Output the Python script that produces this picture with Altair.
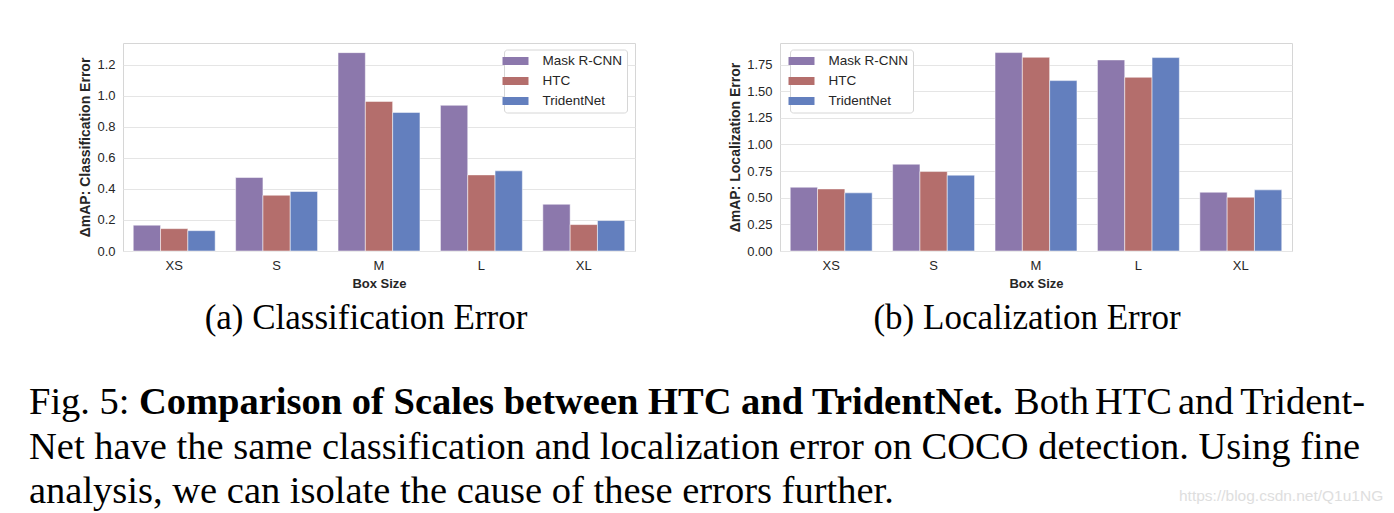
import altair as alt
import pandas as pd

box_sizes = ["XS", "S", "M", "L", "XL"]
models = ["Mask R-CNN", "HTC", "TridentNet"]
colors = ["#8c78ac", "#b46e6c", "#637fbe"]

cls_mask = [0.166, 0.473, 1.277, 0.938, 0.301]
cls_htc = [0.144, 0.359, 0.963, 0.490, 0.170]
cls_trident = [0.131, 0.383, 0.892, 0.516, 0.196]

loc_mask = [0.599, 0.815, 1.863, 1.794, 0.552]
loc_htc = [0.583, 0.746, 1.819, 1.631, 0.505]
loc_trident = [0.546, 0.712, 1.600, 1.816, 0.574]

cls_ticks = [0.0, 0.2, 0.4, 0.6, 0.8, 1.0, 1.2]
loc_ticks = [0.0, 0.25, 0.5, 0.75, 1.0, 1.25, 1.5, 1.75]

sub_a = "(a) Classification Error"
sub_b = "(b) Localization Error"
cap1_a = "Fig. 5:"
cap1_b = "Comparison of Scales between HTC and TridentNet."
cap1_words = ["Both", "HTC", "and"]
cap1_last = "Trident-"
cap2 = "Net have the same classification and localization error on COCO detection. Using fine"
cap3 = "analysis, we can isolate the cause of these errors further."
watermark = "https://blog.csdn.net/Q1u1NG"

SANS = "Liberation Sans"
SERIF = "Liberation Serif"
CAP = 38.5


def frame(series):
    rows = []
    for model, vals in zip(models, series):
        for s, v in zip(box_sizes, vals):
            rows.append({"size": s, "model": model, "value": v})
    return pd.DataFrame(rows)


def text_layer(txt, x, y, size, font, weight="normal", color="black", align="left"):
    return alt.Chart(pd.DataFrame({"t": [txt]})).mark_text(
        font=font, fontSize=size, fontWeight=weight, color=color,
        align=align, baseline="alphabetic"
    ).encode(x=alt.value(x), y=alt.value(y), text="t:N")


def panel(series, ytitle, ymax, ticks, fmt, lx, ly, extras):
    df = frame(series)
    bars = alt.Chart(df).mark_bar(stroke="white", strokeWidth=1, strokeOpacity=0.5).encode(
        x=alt.X("size:N", sort=box_sizes, title="Box Size",
                scale=alt.Scale(domain=box_sizes, paddingInner=0.2, paddingOuter=0.1),
                axis=alt.Axis(labelAngle=0, grid=False, labelPadding=8, titlePadding=5)),
        xOffset=alt.XOffset("model:N", sort=models,
                            scale=alt.Scale(domain=models, paddingInner=0, paddingOuter=0)),
        y=alt.Y("value:Q", title=ytitle,
                scale=alt.Scale(domain=[0, ymax], nice=False, zero=True),
                axis=alt.Axis(values=ticks, format=fmt, grid=True, labelPadding=8,
                              titlePadding=4, titleFontSize=14)),
        color=alt.Color("model:N", sort=models,
                        scale=alt.Scale(domain=models, range=colors),
                        legend=alt.Legend(title=None, orient="none", legendX=lx, legendY=ly)),
    )
    return alt.layer(bars, *extras).properties(width=512, height=208)


word_x = [1013, 1094, 1177]
left_extras = [
    text_layer(sub_a, 243, 286, 35, SERIF, align="center"),
    text_layer(cap1_a, -94, 370.5, CAP, SERIF),
    text_layer(cap1_b, 16, 370.5, CAP, SERIF, weight="bold"),
    text_layer(cap1_last, 1364 - 122, 370.5, CAP, SERIF, align="right"),
    text_layer(cap2, -94, 415.5, CAP, SERIF),
    text_layer(cap3, -94, 459.5, CAP, SERIF),
] + [text_layer(w, x - 122, 370.5, CAP, SERIF) for w, x in zip(cap1_words, word_x)]

right_extras = [
    text_layer(sub_b, 247, 286, 35, SERIF, align="center"),
    text_layer(watermark, 399, 457.5, 15.5, SANS, color="#dedede"),
]

left = panel([cls_mask, cls_htc, cls_trident], "ΔmAP: Classification Error",
             1.339, cls_ticks, ".1f", 381, 6.5, left_extras)
right = panel([loc_mask, loc_htc, loc_trident], "ΔmAP: Localization Error",
              1.953, loc_ticks, ".2f", 10, 6.5, right_extras)

chart = alt.hconcat(left, right, spacing=145, bounds="flush").resolve_scale(
    color="independent"
).resolve_legend(
    color="independent"
).properties(
    padding={"left": 28, "top": 42, "right": 0, "bottom": 0},
    background="white",
).configure_view(
    stroke="#d6d6d6", strokeWidth=1
).configure_axis(
    labelFont=SANS, labelFontSize=13, labelColor="#262626",
    titleFont=SANS, titleFontSize=13, titleFontWeight="bold", titleColor="#262626",
    domain=False, ticks=False, gridColor="#e5e5e5", gridWidth=1,
).configure_legend(
    labelFont=SANS, labelFontSize=13.5, labelColor="#262626",
    fillColor="white", strokeColor="#d6d6d6", cornerRadius=3, padding=4.5,
    symbolType="M-1.857,-0.571H1.857V0.571H-1.857Z", symbolSize=196, symbolStrokeWidth=0,
    symbolOffset=0, labelOffset=20, rowPadding=6,
)

chart.save("out.html", embed_options={"renderer": "svg", "actions": False})
